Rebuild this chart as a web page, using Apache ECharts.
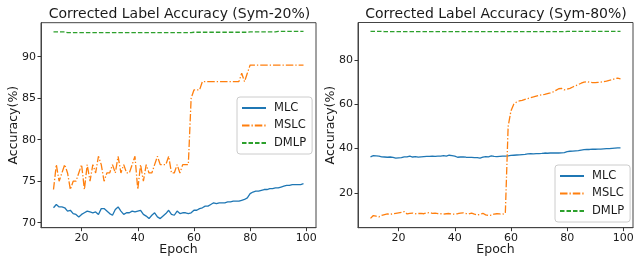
<!DOCTYPE html>
<html>
<head>
<meta charset="utf-8">
<script src="https://cdn.jsdelivr.net/npm/echarts@6/dist/echarts.min.js"></script>
<style>
  html, body { margin: 0; padding: 0; background: #fff; }
  #chart { width: 634px; height: 258px; }
</style>
</head>
<body>
<div id="chart"></div>
<script>
// epochs 10..99
const epochs = [10, 11, 12, 13, 14, 15, 16, 17, 18, 19, 20, 21, 22, 23, 24, 25, 26, 27, 28, 29,
  30, 31, 32, 33, 34, 35, 36, 37, 38, 39, 40, 41, 42, 43, 44, 45, 46, 47, 48, 49,
  50, 51, 52, 53, 54, 55, 56, 57, 58, 59, 60, 61, 62, 63, 64, 65, 66, 67, 68, 69,
  70, 71, 72, 73, 74, 75, 76, 77, 78, 79, 80, 81, 82, 83, 84, 85, 86, 87, 88, 89,
  90, 91, 92, 93, 94, 95, 96, 97, 98, 99];

const titles = ["Corrected Label Accuracy (Sym-20%)", "Corrected Label Accuracy (Sym-80%)"];
const seriesNames = ["MLC", "MSLC", "DMLP"];

// Sym-20%
const mlc20 = [71.8, 72.2, 71.9, 71.9, 71.8, 71.4, 71.5, 71.1, 71.0, 70.7,
  71.0, 71.2, 71.4, 71.3, 71.2, 71.3, 71.0, 71.7, 71.7, 71.4,
  71.1, 70.9, 71.6, 71.9, 71.4, 71.0, 71.2, 71.2, 71.4, 71.3,
  71.4, 71.5, 71.0, 70.8, 70.5, 70.9, 71.2, 70.7, 70.5, 70.8,
  71.1, 71.5, 71.0, 70.9, 71.4, 71.1, 71.2, 71.2, 71.1, 71.2,
  71.5, 71.5, 71.7, 71.8, 72.0, 72.0, 72.2, 72.4, 72.3, 72.4,
  72.4, 72.4, 72.5, 72.5, 72.6, 72.6, 72.6, 72.7, 72.8, 73.0,
  73.5, 73.7, 73.8, 73.8, 73.9, 74.0, 74.0, 74.1, 74.1, 74.2,
  74.2, 74.3, 74.4, 74.5, 74.5, 74.6, 74.6, 74.6, 74.6, 74.7];
const mslc20 = [74, 77, 75, 76, 77, 76, 74, 75, 75, 76,
  77, 74, 77, 75, 77, 76, 78, 77, 75, 76,
  76, 77, 76, 78, 76, 77, 76, 76, 77, 78,
  74, 77, 75, 77, 76, 76, 77, 78, 77, 77,
  77, 78, 76, 76, 77, 76, 77, 77, 77, 85,
  86, 86, 86, 87, 87, 87, 87, 87, 87, 87,
  87, 87, 87, 87, 87, 87, 87, 88, 87, 88,
  89, 89, 89, 89, 89, 89, 89, 89, 89, 89,
  89, 89, 89, 89, 89, 89, 89, 89, 89, 89];
const dmlp20 = [93.0, 93.0, 93.0, 93.0, 93.0, 92.9, 92.9, 92.9, 92.9, 92.9,
  92.9, 92.9, 92.9, 92.9, 92.9, 92.9, 92.9, 92.9, 92.9, 92.9,
  92.9, 92.9, 92.9, 92.9, 92.9, 92.9, 92.9, 92.9, 92.9, 92.9,
  92.9, 92.9, 92.9, 92.9, 92.9, 92.9, 92.9, 92.9, 92.9, 92.9,
  92.9, 92.9, 92.9, 92.9, 92.9, 92.9, 92.9, 92.9, 92.9, 92.9,
  92.95, 92.95, 92.95, 92.95, 92.95, 92.95, 92.95, 92.95, 92.95, 92.95,
  92.95, 92.95, 92.95, 92.95, 92.95, 92.95, 92.95, 92.95, 92.95, 92.95,
  93.0, 93.0, 93.0, 93.0, 93.0, 93.0, 93.0, 93.0, 93.0, 93.0,
  93.05, 93.05, 93.05, 93.05, 93.05, 93.05, 93.05, 93.05, 93.05, 93.05];

// Sym-80%
const mlc80 = [36.3, 36.8, 36.7, 36.6, 36.3, 36.2, 36.1, 36.2, 36.0, 35.7,
  35.8, 35.9, 36.3, 36.3, 36.6, 36.2, 36.4, 36.1, 36.3, 36.4,
  36.5, 36.5, 36.6, 36.5, 36.6, 36.6, 36.8, 36.6, 37.0, 36.8,
  36.6, 36.1, 36.2, 36.3, 36.1, 36.0, 36.0, 35.9, 35.9, 35.7,
  36.1, 36.4, 36.3, 36.7, 36.5, 36.4, 36.5, 36.6, 36.6, 36.7,
  36.9, 37.0, 37.1, 37.2, 37.3, 37.4, 37.6, 37.7, 37.6, 37.7,
  37.7, 37.8, 38.0, 37.9, 38.0, 38.1, 38.0, 38.0, 38.1, 38.2,
  38.6, 38.8, 38.9, 39.0, 39.1, 39.3, 39.5, 39.6, 39.6, 39.7,
  39.7, 39.8, 39.8, 39.9, 40.0, 40.0, 40.1, 40.2, 40.3, 40.3];
const mslc80 = [8.5, 9.8, 9.5, 9.2, 9.9, 10.2, 10.5, 10.3, 10.6, 10.8,
  11.0, 11.2, 11.6, 10.5, 10.8, 10.9, 10.6, 10.7, 10.8, 10.6,
  11.0, 11.1, 10.8, 10.9, 10.7, 10.6, 10.4, 10.6, 10.7, 10.5,
  10.4, 10.6, 10.9, 11.0, 10.7, 10.5, 10.9, 10.4, 10.1, 10.3,
  10.8, 10.1, 9.8, 10.0, 10.4, 10.6, 10.5, 10.4, 10.8, 50.0,
  57.0, 60.0, 61.0, 61.5, 61.8, 62.2, 62.6, 63.0, 63.3, 63.7,
  64.0, 64.3, 64.5, 64.8, 65.1, 65.6, 66.3, 67.0, 67.2, 66.5,
  66.8, 67.2, 67.8, 68.4, 68.9, 69.5, 70.0, 70.2, 69.9, 69.8,
  69.8, 69.9, 70.0, 70.2, 70.4, 70.8, 71.1, 71.5, 71.8, 71.5];
const dmlp80 = [92.9, 92.9, 92.9, 92.9, 92.9, 92.8, 92.8, 92.8, 92.8, 92.8,
  92.8, 92.8, 92.8, 92.8, 92.8, 92.8, 92.8, 92.8, 92.8, 92.8,
  92.8, 92.8, 92.8, 92.8, 92.8, 92.8, 92.8, 92.8, 92.8, 92.8,
  92.8, 92.8, 92.8, 92.8, 92.8, 92.8, 92.8, 92.8, 92.8, 92.8,
  92.8, 92.8, 92.8, 92.8, 92.8, 92.8, 92.8, 92.8, 92.8, 92.8,
  92.8, 92.8, 92.8, 92.8, 92.8, 92.8, 92.8, 92.8, 92.8, 92.8,
  92.8, 92.8, 92.8, 92.8, 92.8, 92.8, 92.8, 92.8, 92.8, 92.8,
  92.85, 92.85, 92.85, 92.85, 92.85, 92.85, 92.85, 92.85, 92.85, 92.85,
  92.85, 92.85, 92.85, 92.85, 92.85, 92.85, 92.85, 92.85, 92.85, 92.85];

const xTicks = [20, 40, 60, 80, 100];
const yTicks20 = [70, 75, 80, 85, 90];
const yTicks80 = [20, 40, 60, 80];

const FONT = "DejaVu Sans";
const TEXT = "#1a1a1a";
const colors = ["#1f77b4", "#ff7f0e", "#2ca02c"];
const lineTypes = ["solid", [7.5, 2, 1.3, 2], [4.5, 2]];

const pairs = (ys) => epochs.map((e, i) => [e, ys[i]]);

function xAxisFor(gridIndex) {
  return {
    type: "value", gridIndex, min: 5.55, max: 103.45,
    name: "Epoch", nameLocation: "middle", nameGap: 16, nameMoveOverlap: false,
    nameTextStyle: { fontFamily: FONT, fontSize: 12.5, color: TEXT },
    axisLine: { show: true, lineStyle: { color: "#444", width: 1 } },
    axisTick: { show: true, length: 3.5, lineStyle: { color: "#333" }, customValues: xTicks },
    axisLabel: { margin: 5, fontFamily: FONT, fontSize: 11, color: TEXT, customValues: xTicks },
    splitLine: { show: false },
  };
}

function yAxisFor(gridIndex, min, max, ticks) {
  return {
    type: "value", gridIndex, min, max,
    name: "Accuracy(%)", nameLocation: "middle", nameGap: 21, nameMoveOverlap: false,
    nameTextStyle: { fontFamily: FONT, fontSize: 12.5, color: TEXT },
    axisLine: { show: true, lineStyle: { color: "#444", width: 1 } },
    axisTick: { show: true, length: 3.5, lineStyle: { color: "#333" }, customValues: ticks },
    axisLabel: { margin: 5, fontFamily: FONT, fontSize: 11, color: TEXT, customValues: ticks },
    splitLine: { show: false },
  };
}

function seriesFor(idx, data) {
  return data.map((ys, k) => ({
    name: seriesNames[k],
    type: "line",
    xAxisIndex: idx, yAxisIndex: idx,
    data: pairs(ys),
    symbol: "none",
    animation: false,
    color: colors[k],
    lineStyle: { color: colors[k], width: 1.3, type: lineTypes[k] },
  }));
}

function legendAt(left, top) {
  return {
    orient: "vertical", left, top,
    data: seriesNames,
    itemWidth: 24, itemHeight: 10, itemGap: 3.5,
    padding: [4, 6, 4, 4],
    backgroundColor: "#fff",
    borderColor: "#cccccc", borderWidth: 1, borderRadius: 3,
    selectedMode: false,
    itemStyle: { opacity: 0 },
    textStyle: { fontFamily: FONT, fontSize: 11.5, color: TEXT, lineHeight: 14, padding: [0, 0, 0, 3] },
  };
}

const chart = echarts.init(document.getElementById("chart"), null, { renderer: "canvas" });

const gridBase = { show: true, borderColor: "#444", borderWidth: 1, backgroundColor: "#fff",
  containLabel: false, outerBoundsMode: "none" };

chart.setOption({
  animation: false,
  backgroundColor: "#fff",
  title: [
    { text: titles[0], left: 174.5, top: 2, textAlign: "center",
      textStyle: { fontFamily: FONT, fontSize: 14, fontWeight: "normal", color: TEXT } },
    { text: titles[1], left: 491, top: 2, textAlign: "center",
      textStyle: { fontFamily: FONT, fontSize: 14, fontWeight: "normal", color: TEXT } },
  ],
  legend: [legendAt(237, 97), legendAt(555, 165)],
  grid: [
    Object.assign({ left: 41, right: 318, top: 22.7, bottom: 30.3 }, gridBase),
    Object.assign({ left: 358, right: 1, top: 22.5, bottom: 30.3 }, gridBase),
  ],
  xAxis: [xAxisFor(0), xAxisFor(1)],
  yAxis: [yAxisFor(0, 69.4, 94.1, yTicks20), yAxisFor(1, 4.3, 96.9, yTicks80)],
  series: [
    ...seriesFor(0, [mlc20, mslc20, dmlp20]),
    ...seriesFor(1, [mlc80, mslc80, dmlp80]),
  ],
});
</script>
</body>
</html>
